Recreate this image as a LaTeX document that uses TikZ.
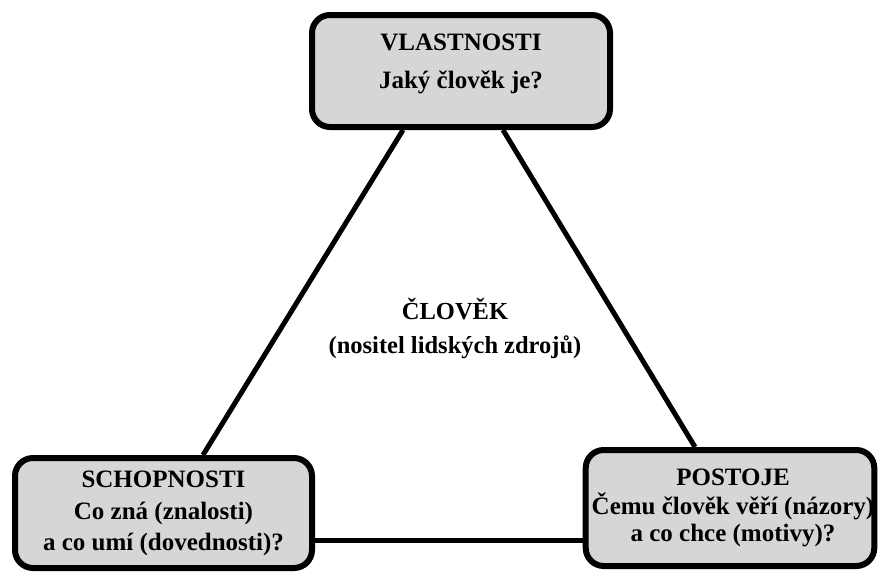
\documentclass[tikz,border=0pt]{standalone}
\usepackage{fontspec}
\setmainfont{Liberation Serif}
\usetikzlibrary{backgrounds}
\definecolor{boxgray}{HTML}{D6D6D6}
\tikzset{
  card/.style={draw=black, fill=boxgray, line width=6pt, rounded corners=18pt,
    inner sep=0pt, font=\bfseries\fontsize{25}{#1}\selectfont},
  card/.default=31,
  centre text/.style={inner sep=0pt, font=\bfseries\fontsize{24.5}{34}\selectfont},
  link/.style={draw=black, line width=5pt}
}
\begin{document}
\begin{tikzpicture}[x=1pt,y=-1pt]
\useasboundingbox (0,0) rectangle (878,573);

% the three corner boxes
\node[card=38, minimum width=298pt, minimum height=112pt] (vl) at (461,71)
  {\begin{tabular}{@{}c@{}}VLASTNOSTI\\Jaký člověk je?\\[19pt]\end{tabular}};
\node[card=31.5, minimum width=297pt, minimum height=110pt] (sch) at (163.5,513)
  {\begin{tabular}{@{}c@{}}SCHOPNOSTI\\Co zná (znalosti)\\a co umí (dovednosti)?\end{tabular}};
\node[card=26.5, minimum width=288pt, minimum height=116pt] (pos) at (730,508)
  {\begin{tabular}{@{\hspace{6pt}}c@{}}POSTOJE\\Čemu člověk věří (názory)\\a co chce (motivy)?\end{tabular}};

% centre of the triangle
\node[centre text] (man) at (455,330)
  {\begin{tabular}{@{}c@{}}ČLOVĚK\\(nositel lidských zdrojů)\end{tabular}};

% triangle sides
\begin{scope}[on background layer]
  \draw[link] (vl.south -| 403,0) -- (sch.north -| 203,0);
  \draw[link] (vl.south -| 503,0) -- (pos.north -| 695,0);
  \draw[link] (sch.east |- 0,540) -- (pos.west |- 0,540);
\end{scope}
\end{tikzpicture}
\end{document}
